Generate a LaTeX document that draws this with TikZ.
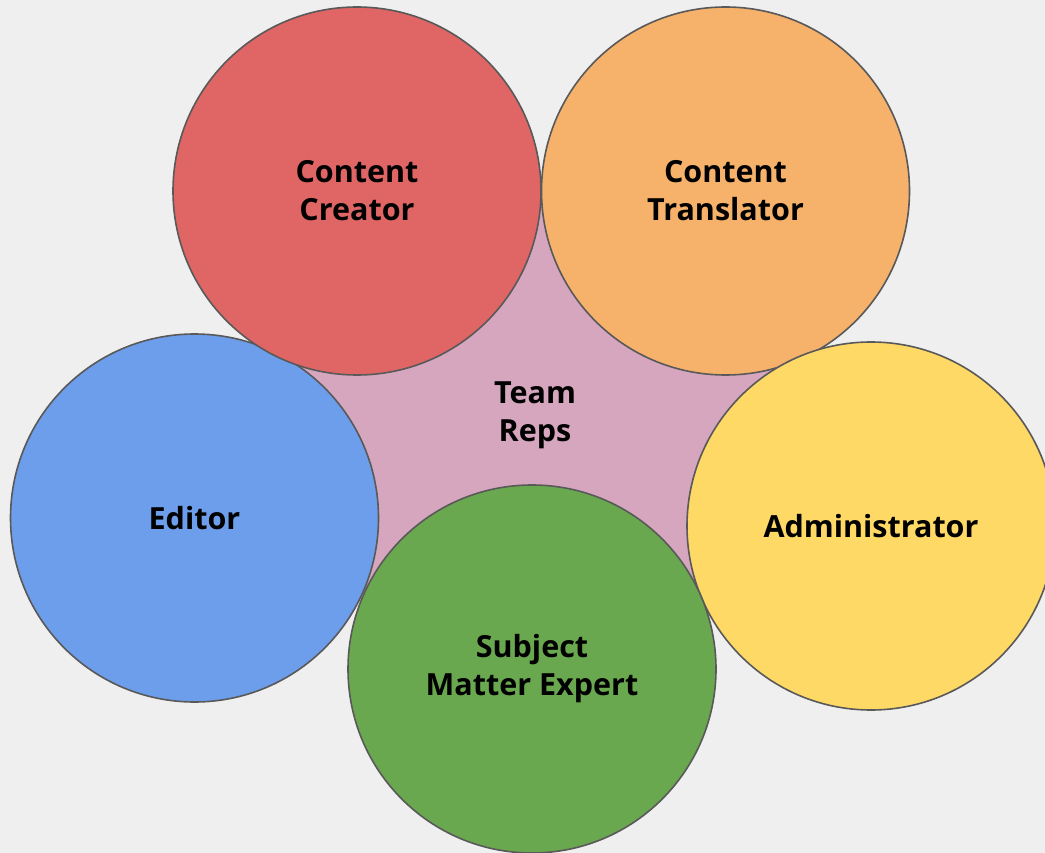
\documentclass[tikz,border=0pt]{standalone}
\usepackage{fontspec}
\setmainfont{Open Sans}
\definecolor{bg}{HTML}{EFEFEF}
\definecolor{edge}{HTML}{595959}
\definecolor{cred}{HTML}{E06666}
\definecolor{corange}{HTML}{F6B26B}
\definecolor{cyellow}{HTML}{FFD966}
\definecolor{cblue}{HTML}{6D9EEB}
\definecolor{cgreen}{HTML}{6AA84F}
\definecolor{cpink}{HTML}{D5A6BD}
\begin{document}
\begin{tikzpicture}[x=1pt,y=-1pt,
  role/.style={circle,draw=edge,line width=1.6pt,minimum size=368pt,inner sep=0pt,
    align=center,font=\fontsize{30.5}{38}\selectfont\bfseries,text=black},
  lbl/.style={align=center,font=\fontsize{30.5}{38}\selectfont\bfseries,text=black}]
\useasboundingbox (0,0) rectangle (1045,853);
\clip (0,0) rectangle (1045,853);
\fill[bg] (0,0) rectangle (1045,853);
\coordinate (pcr) at (357,191);
\coordinate (pct) at (725.5,191);
\coordinate (pad) at (871,526);
\coordinate (psm) at (532,669);
\coordinate (ped) at (194.5,518);
\fill[cpink] (pcr) -- (pct) -- (pad) -- (psm) -- (ped) -- cycle;
\node[lbl] (reps) at (535,415) {Team\\Reps};
\node[role,fill=cblue] (ed) at (ped) {Editor};
\node[role,fill=cred] (cr) at (pcr) {Content\\Creator};
\node[role,fill=corange] (ct) at (pct) {Content\\Translator};
\node[role,fill=cyellow] (ad) at (pad) {Administrator};
\node[role,fill=cgreen] (sme) at (psm) {Subject\\Matter Expert};
\end{tikzpicture}
\end{document}
